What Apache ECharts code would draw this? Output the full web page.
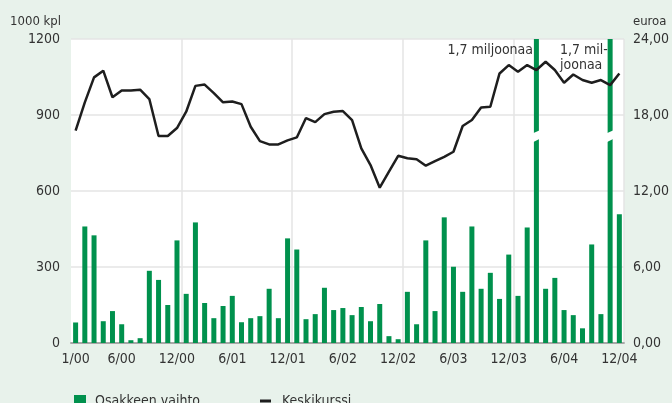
<!DOCTYPE html>
<html>
<head>
<meta charset="utf-8">
<script src="https://cdn.jsdelivr.net/npm/echarts@6/dist/echarts.min.js"></script>
<style>
  html, body { margin: 0; padding: 0; background: #e8f2eb; }
  #chart { width: 672px; height: 403px; }
</style>
</head>
<body>
<div id="chart"></div>
<script>
// kuukaudet 1/00 - 12/04
var months = [
  '1/00','2/00','3/00','4/00','5/00','6/00','7/00','8/00','9/00','10/00','11/00','12/00',
  '1/01','2/01','3/01','4/01','5/01','6/01','7/01','8/01','9/01','10/01','11/01','12/01',
  '1/02','2/02','3/02','4/02','5/02','6/02','7/02','8/02','9/02','10/02','11/02','12/02',
  '1/03','2/03','3/03','4/03','5/03','6/03','7/03','8/03','9/03','10/03','11/03','12/03',
  '1/04','2/04','3/04','4/04','5/04','6/04','7/04','8/04','9/04','10/04','11/04','12/04'
];
var shownLabels = ['1/00','6/00','12/00','6/01','12/01','6/02','12/02','6/03','12/03','6/04','12/04'];

// osakkeen vaihto, 1000 kpl
var vaihto = [
  81, 460, 425, 86, 126, 74, 11, 19, 285, 249, 150, 405,
  194, 476, 158, 98, 146, 186, 82, 98, 106, 214, 98, 413,
  369, 94, 114, 218, 130, 138, 110, 142, 86, 154, 27, 15,
  202, 74, 405, 126, 496, 301, 202, 460, 214, 277, 174, 349,
  186, 456, 1700, 214, 257, 130, 110, 58, 389, 114, 1700, 508
];

// keskikurssi, euroa
var kurssi = [
  16.76, 19.0, 20.97, 21.5, 19.4, 19.94, 19.94, 20.0, 19.26, 16.34, 16.34, 16.97,
  18.26, 20.3, 20.4, 19.73, 19.0, 19.07, 18.86, 17.07, 15.94, 15.68, 15.68, 16.0,
  16.23, 17.76, 17.44, 18.07, 18.26, 18.31, 17.6, 15.37, 14.05, 12.26, 13.52, 14.78,
  14.58, 14.5, 14.0, 14.36, 14.7, 15.1, 17.13, 17.6, 18.6, 18.65, 21.28, 21.94,
  21.42, 21.94, 21.55, 22.2, 21.55, 20.55, 21.2, 20.76, 20.55, 20.76, 20.36, 21.28
];

var leftMax = 1200;
var font = "'Liberation Sans Narrow', 'DejaVu Sans Condensed', sans-serif";
var txt = '#333';
var fs = 14;

// katkaistut pylväät (yli asteikon)
var breaks = [];
vaihto.forEach(function (v, i) { if (v > leftMax) breaks.push([i, 817]); });

var myChart = echarts.init(document.getElementById('chart'));

var option = {
  backgroundColor: '#e8f2eb',
  animation: false,
  textStyle: { fontFamily: font, color: txt },
  grid: {
    left: 71, right: 45, top: 39, bottom: 60,
    show: true, backgroundColor: '#fff', borderWidth: 0
  },
  legend: [
    {
      left: 69, top: 389,
      itemWidth: 12, itemHeight: 12,
      textStyle: { fontFamily: font, fontSize: fs, color: txt, padding: [0, 0, 0, 4] },
      data: [{ name: 'Osakkeen vaihto', icon: 'rect' }]
    },
    {
      left: 255, top: 389,
      itemWidth: 11, itemHeight: 3,
      textStyle: { fontFamily: font, fontSize: fs, color: txt, padding: [0, 0, 0, 6] },
      data: [{ name: 'Keskikurssi', icon: 'rect' }]
    }
  ],
  xAxis: {
    type: 'category',
    data: months,
    boundaryGap: true,
    axisLine: { lineStyle: { color: '#a8a8a8', width: 2 } },
    axisTick: { show: false },
    axisLabel: {
      interval: function (i, name) { return shownLabels.indexOf(name) >= 0; },
      fontFamily: font, fontSize: fs, color: txt, margin: 9
    },
    splitLine: {
      show: true,
      interval: function (i) { return i > 0 && i % 12 === 0; },
      lineStyle: { color: '#e4e4e4', width: 1.5 }
    }
  },
  yAxis: [
    {
      type: 'value', min: 0, max: leftMax, interval: 300,
      name: '1000 kpl', nameGap: 11,
      nameTextStyle: { fontFamily: font, fontSize: 13, color: txt, align: 'right', padding: [0, 10, 0, 0] },
      axisLine: { show: false }, axisTick: { show: false },
      axisLabel: {
        fontFamily: font, fontSize: fs, color: txt, margin: 11,
        formatter: function (v) { return String(v); }
      },
      splitLine: { lineStyle: { color: '#e4e4e4', width: 1.5 } }
    },
    {
      type: 'value', min: 0, max: 24, interval: 6,
      name: 'euroa', nameGap: 11,
      nameTextStyle: { fontFamily: font, fontSize: 13, color: txt, align: 'left', padding: [0, 0, 0, 9] },
      axisLine: { show: false }, axisTick: { show: false },
      axisLabel: {
        fontFamily: font, fontSize: fs, color: txt, margin: 9,
        formatter: function (v) { return v.toFixed(2).replace('.', ','); }
      },
      splitLine: { show: false }
    }
  ],
  series: [
    {
      name: 'Osakkeen vaihto',
      type: 'bar',
      yAxisIndex: 0,
      data: vaihto,
      barWidth: 5,
      clip: true,
      itemStyle: { color: '#00914d' }
    },
    {
      type: 'custom',
      yAxisIndex: 0,
      data: breaks,
      silent: true,
      z: 5,
      renderItem: function (params, api) {
        var p = api.coord([api.value(0), api.value(1)]);
        var x0 = p[0] - 4, x1 = p[0] + 4, y = p[1];
        return {
          type: 'polygon',
          shape: { points: [[x0, y - 2.5], [x1, y - 6], [x1, y + 2.5], [x0, y + 6.5]] },
          style: { fill: '#fff' }
        };
      }
    },
    {
      name: 'Keskikurssi',
      type: 'line',
      yAxisIndex: 1,
      data: kurssi,
      symbol: 'none',
      z: 6,
      lineStyle: { color: '#1e1e1e', width: 2.5 },
      itemStyle: { color: '#1e1e1e' }
    }
  ],
  graphic: [
    { type: 'text', right: 672 - 533, top: 43, z: 10,
      style: { text: '1,7 miljoonaa', font: fs + 'px ' + font, fill: txt, textAlign: 'right' } },
    { type: 'text', left: 560, top: 43, z: 10,
      style: { text: '1,7 mil-\njoonaa', font: fs + 'px ' + font, fill: txt, lineHeight: 15 } }
  ]
};

myChart.setOption(option);
</script>
</body>
</html>
